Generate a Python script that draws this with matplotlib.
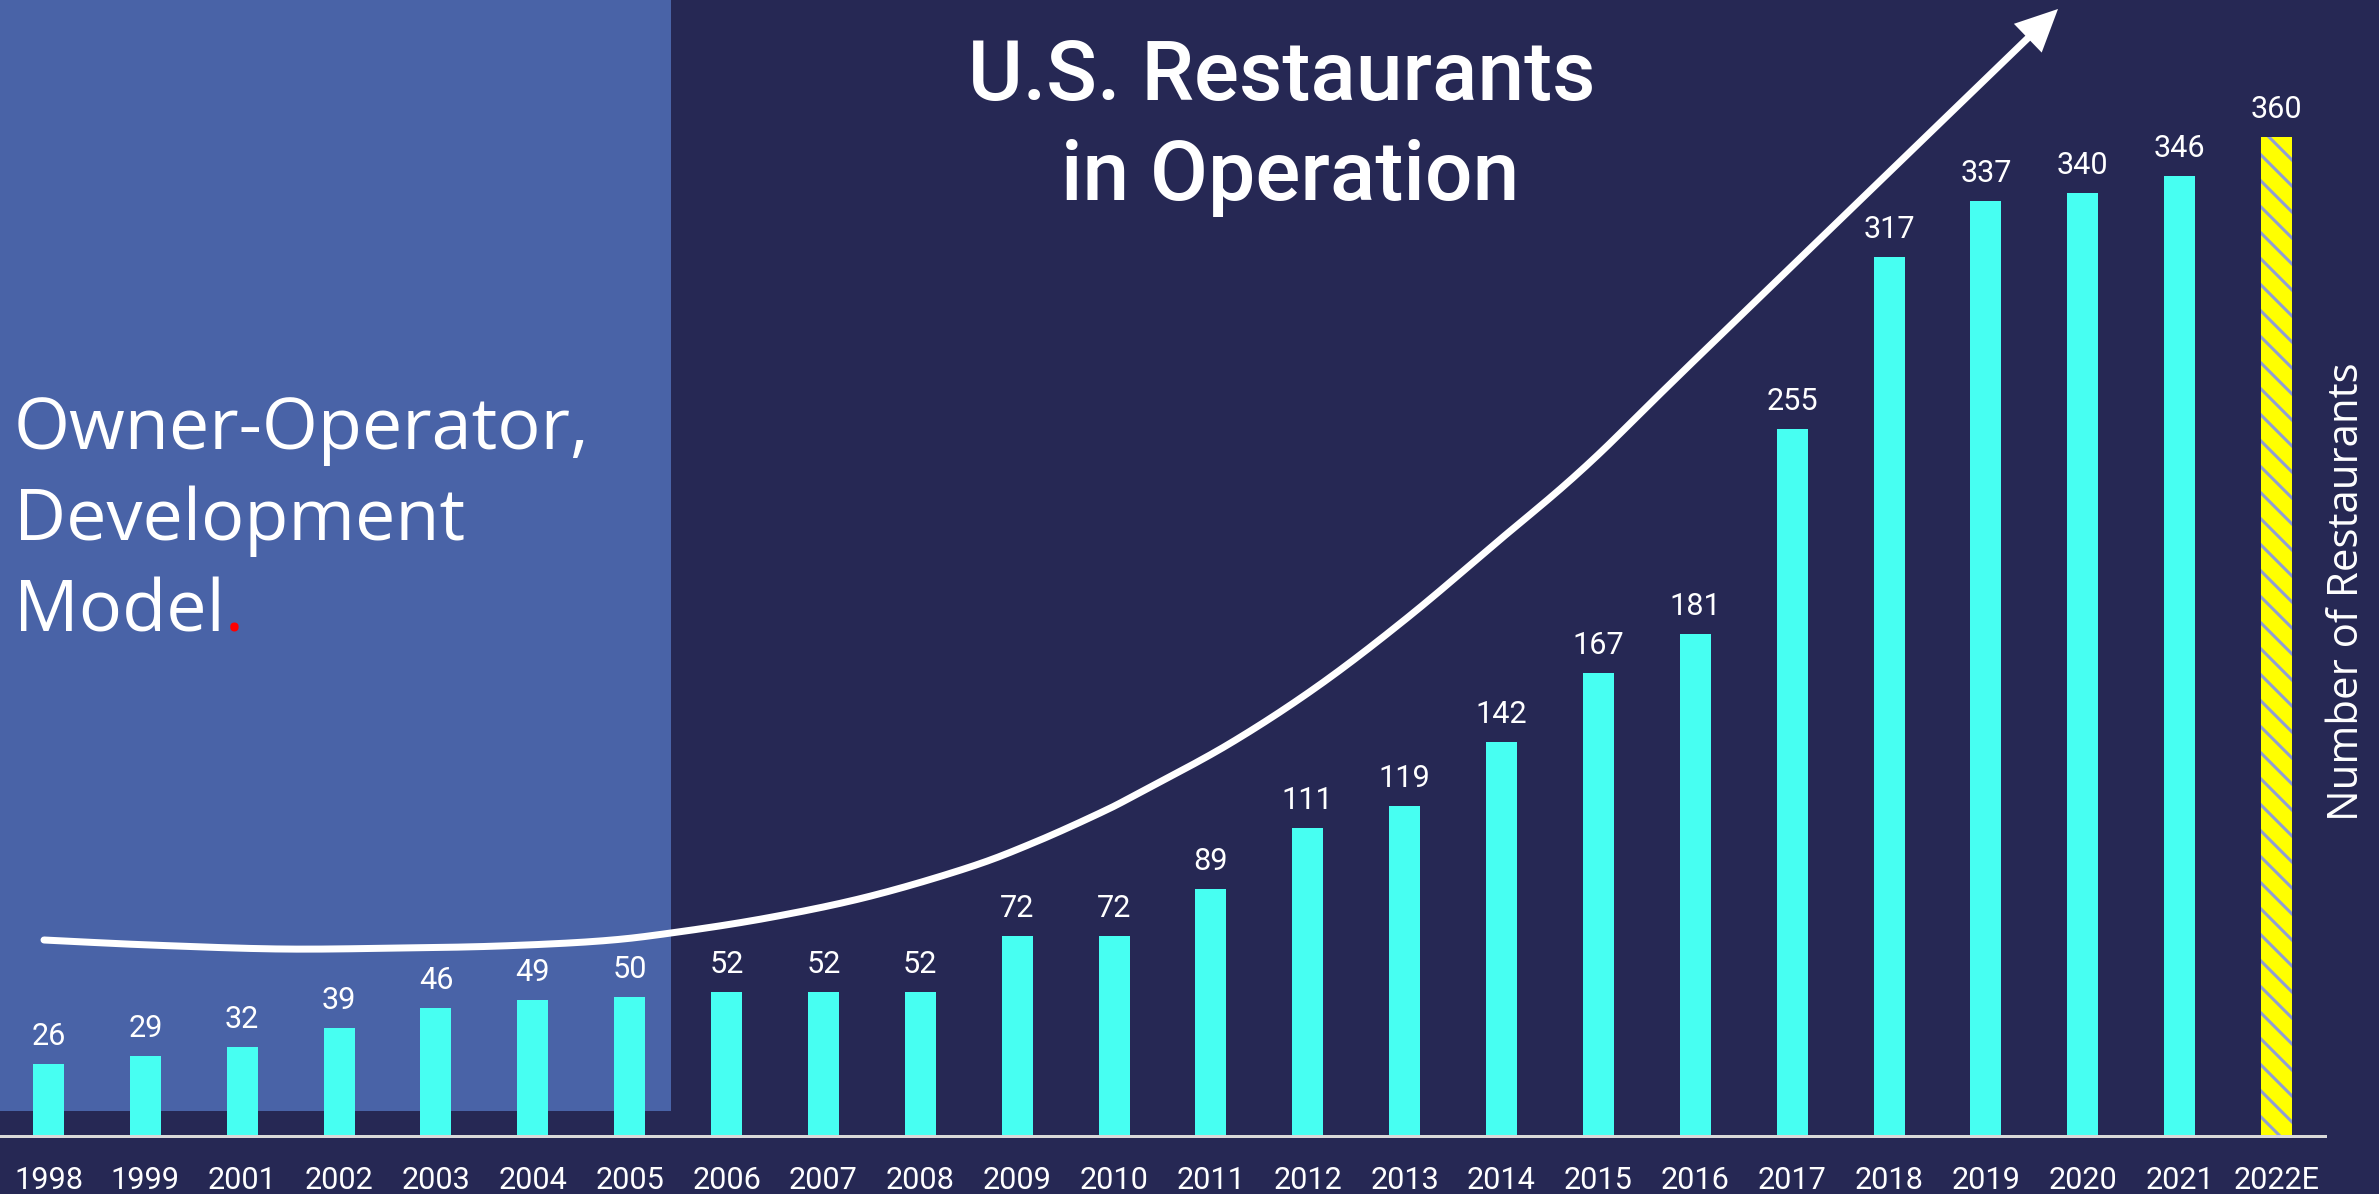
import numpy as np
import matplotlib
matplotlib.use("Agg")
import matplotlib.pyplot as plt
from matplotlib.lines import Line2D
from matplotlib.patches import Rectangle, Polygon

# ---------------- data ----------------
years = ["1998", "1999", "2001", "2002", "2003", "2004", "2005", "2006", "2007",
         "2008", "2009", "2010", "2011", "2012", "2013", "2014", "2015", "2016",
         "2017", "2018", "2019", "2020", "2021", "2022E"]
restaurants = [26, 29, 32, 39, 46, 49, 50, 52, 52, 52, 72, 72, 89, 111, 119,
               142, 167, 181, 255, 317, 337, 340, 346, 360]
estimate_label = "2022E"

title_lines = ["U.S. Restaurants", "in Operation"]
side_lines = ["Owner-Operator,", "Development", "Model"]
y_label = "Number of Restaurants"

# ---------------- style ----------------
DPI = 78
W, H = 2379, 1194
def P(px):
    return px * 72.0 / DPI

BG = "#262854"
PANEL = "#4963A7"
CYAN = "#47FFF2"
YELLOW = "#FFFF00"
HATCH = "#8F9DD4"
AXIS = "#D9D9D9"

plt.rcParams["hatch.linewidth"] = P(3.0)

fig = plt.figure(figsize=(W / DPI, H / DPI), dpi=DPI, facecolor=BG)

# light blue panel on the left
fig.add_artist(Rectangle((0, 1 - 1111 / H), 671 / W, 1111 / H,
                         transform=fig.transFigure, facecolor=PANEL,
                         edgecolor="none", zorder=-1))

base_px = 1136
ax = fig.add_axes([0, (H - base_px) / H, 2325 / W, base_px / H])
ax.set_facecolor("none")

x = np.arange(len(years))
colors = [YELLOW if y == estimate_label else CYAN for y in years]
bars = ax.bar(x, restaurants, width=0.32, color=colors, linewidth=0, zorder=2)
for b, y in zip(bars, years):
    if y == estimate_label:
        b.set_hatch("\\")
        b.set_edgecolor(HATCH)
        b.set_linewidth(0)

px_per_unit = 2.774
spacing = 96.87
ax.set_xlim(-48.5 / spacing, (2325 - 48.5) / spacing)
ax.set_ylim(0, base_px / px_per_unit)

lab_font = ["Roboto", "DejaVu Sans"]
for xi, v in zip(x, restaurants):
    ax.annotate(str(v), (xi, v), xytext=(0, P(19)), textcoords="offset points",
                ha="center", va="baseline", fontsize=P(30.6), color="white",
                family=lab_font, zorder=3)

ax.set_xticks(x, years)
ax.set_yticks([])
ax.tick_params(axis="x", length=0, pad=P(53), labelsize=P(30.6), labelcolor="white")
for lbl in ax.get_xticklabels():
    lbl.set_va("baseline")
    lbl.set_family(lab_font)

for s in ["top", "right", "left"]:
    ax.spines[s].set_visible(False)
ax.spines["bottom"].set_color(AXIS)
ax.spines["bottom"].set_linewidth(P(3))
ax.spines["bottom"].set_zorder(4)

# ---------------- title ----------------
fig.text(1282 / W, 1 - 100 / H, title_lines[0], ha="center", va="baseline",
         fontsize=P(84), color="white", family=lab_font, fontweight="medium")
fig.text(1290 / W, 1 - 200 / H, title_lines[1], ha="center", va="baseline",
         fontsize=P(84), color="white", family=lab_font, fontweight="medium")

# ---------------- side text ----------------
side_font = ["Open Sans", "DejaVu Sans"]
baselines = [449, 540, 631]
side_txt = []
for line, yb in zip(side_lines, baselines):
    side_txt.append(fig.text(14 / W, 1 - yb / H, line, ha="left", va="baseline",
                             fontsize=P(72), color="white", family=side_font))

# y label on the right
fig.text(2347 / W, 1 - 592 / H, y_label, rotation=90, ha="center", va="center",
         fontsize=P(42), color="white", family=side_font)

# ---------------- growth arrow (decoration) ----------------
curve_px = [(44, 940), (150, 945), (280, 949), (400, 948), (500, 946),
            (600, 941), (671, 933), (767, 918), (867, 897), (967, 868),
            (1033, 843), (1100, 813), (1139, 793), (1229, 744), (1318, 686),
            (1407, 618), (1496, 543), (1586, 466), (1700, 355), (2058, 9)]

def catmull(pts, n=30):
    pts = np.asarray(pts, float)
    ext = np.vstack([2 * pts[0] - pts[1], pts, 2 * pts[-1] - pts[-2]])
    out = []
    for i in range(1, len(ext) - 2):
        p0, p1, p2, p3 = ext[i - 1], ext[i], ext[i + 1], ext[i + 2]
        t = np.linspace(0, 1, n, endpoint=False)[:, None]
        out.append(0.5 * ((2 * p1) + (-p0 + p2) * t
                          + (2 * p0 - 5 * p1 + 4 * p2 - p3) * t ** 2
                          + (-p0 + 3 * p1 - 3 * p2 + p3) * t ** 3))
    out.append(pts[-1:])
    return np.vstack(out)

c = catmull(curve_px)
tip = np.array(curve_px[-1], float)
d = tip - np.array(curve_px[-2], float)
d /= np.hypot(*d)
head_len, head_half = 42.0, 20.0
keep = np.hypot(c[:, 0] - tip[0], c[:, 1] - tip[1]) > head_len * 0.7
c = c[keep]
fig.add_artist(Line2D(c[:, 0] / W, 1 - c[:, 1] / H, transform=fig.transFigure,
                      lw=P(7), color="white", solid_capstyle="round",
                      solid_joinstyle="round", zorder=5))
base = tip - d * head_len
nrm = np.array([-d[1], d[0]])
tri = np.array([tip, base + nrm * head_half, base - nrm * head_half])
fig.add_artist(Polygon(np.column_stack([tri[:, 0] / W, 1 - tri[:, 1] / H]),
                       closed=True, transform=fig.transFigure,
                       facecolor="white", edgecolor="none", zorder=6))

# red period after "Model"
renderer = fig.canvas.get_renderer()
bb = side_txt[2].get_window_extent(renderer)
fig.text(bb.x1 / W, 1 - baselines[2] / H, ".", ha="left", va="baseline",
         fontsize=P(72), color="#FF0000", family=side_font)

fig.savefig("out.png", dpi=DPI, facecolor=BG)
